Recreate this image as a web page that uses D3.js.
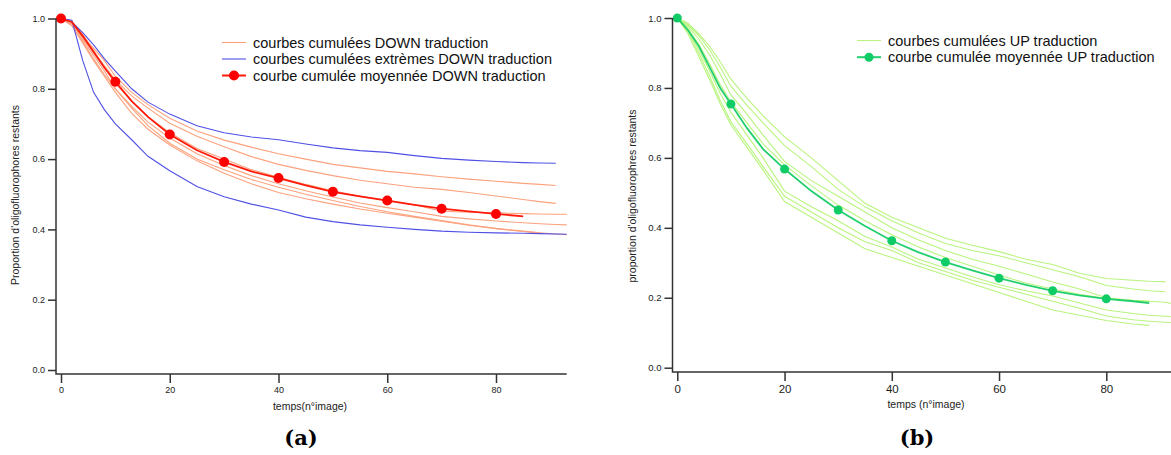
<!DOCTYPE html>
<meta charset="utf-8">
<html lang="fr">
<style>
body { margin: 0; background: #fff; }
svg { display: block; }
.axis text { font-family: "Liberation Sans", Arial, sans-serif; fill: #222; }
.axis line, .axisline { stroke: #333; stroke-width: 1.5px; fill: none; }
.light { fill: none; stroke-width: 1.1px; }
.mean { fill: none; stroke-width: 1.8px; }
.lab { font-family: "Liberation Sans", Arial, sans-serif; fill: #222; }
.legend text { font-family: "Liberation Sans", Arial, sans-serif; font-size: 14.5px; fill: #111; }
.caption { font-family: "DejaVu Serif", "Liberation Serif", serif; font-weight: bold; font-size: 21px; fill: #000; }
</style>
<body>
<svg id="chart" width="1171" height="455"></svg>
<script src="https://cdn.jsdelivr.net/npm/d3@7"></script>
<script>
// ---- panel (a) : DOWN traduction ----
var framesA = [0,2,4,6,8,10,13,16,20,25,30,35,40,45,50,55,60,65,70,75,80,85,88,91,93];
var orangeA = [
  [1,0.99,0.95,0.915,0.88,0.835,0.79,0.755,0.716,0.68,0.654,0.634,0.615,0.6,0.585,0.575,0.565,0.558,0.55,0.543,0.537,0.531,0.528,0.525,null],
  [1,0.985,0.945,0.905,0.865,0.825,0.78,0.745,0.702,0.665,0.635,0.607,0.585,0.568,0.553,0.54,0.53,0.52,0.514,0.505,0.495,0.485,0.479,0.474,null],
  [1,0.99,0.955,0.91,0.86,0.815,0.765,0.72,0.675,0.63,0.6,0.57,0.548,0.528,0.51,0.494,0.483,0.47,0.452,0.449,0.447,0.445,0.444,0.443,0.443],
  [1,0.985,0.94,0.895,0.85,0.8,0.75,0.705,0.66,0.615,0.582,0.553,0.53,0.51,0.492,0.475,0.462,0.45,0.437,0.43,0.424,0.419,0.416,0.414,0.413],
  [1,0.98,0.93,0.88,0.835,0.79,0.73,0.685,0.64,0.595,0.56,0.53,0.505,0.487,0.472,0.458,0.446,0.435,0.423,0.412,0.402,0.394,0.39,0.387,0.385],
  [1,0.98,0.935,0.885,0.84,0.8,0.745,0.695,0.645,0.6,0.57,0.542,0.52,0.5,0.482,0.465,0.45,0.437,0.425,0.413,0.403,0.395,0.39,null,null]
];
var blueA = [
  [1,0.99,0.96,0.925,0.885,0.85,0.8,0.762,0.728,0.695,0.675,0.663,0.655,0.643,0.632,0.624,0.619,0.61,0.602,0.597,0.593,0.59,0.589,0.588,null],
  [1,0.995,0.88,0.79,0.74,0.7,0.655,0.608,0.567,0.522,0.493,0.472,0.455,0.435,0.422,0.413,0.406,0.4,0.395,0.392,0.39,0.389,0.388,0.387,0.386]
];
var meanA = [1,0.99,0.95,0.905,0.86,0.82,0.765,0.72,0.67,0.625,0.592,0.565,0.546,0.525,0.507,0.494,0.482,0.47,0.459,0.451,0.444,0.437,null,null,null];
var legendA = ["courbes cumulées DOWN traduction", "courbes cumulées extrèmes DOWN traduction", "courbe cumulée moyennée DOWN traduction"];

// ---- panel (b) : UP traduction ----
var framesB = [0,2,4,6,8,10,13,16,20,25,30,35,40,45,50,55,60,65,70,75,80,85,88,91,92];
var greenB = [
  [1,0.985,0.955,0.92,0.875,0.825,0.77,0.72,0.66,0.6,0.535,0.47,0.43,0.4,0.37,0.35,0.332,0.31,0.295,0.27,0.255,0.25,0.247,0.246,null],
  [1,0.98,0.95,0.91,0.86,0.805,0.75,0.7,0.635,0.575,0.51,0.46,0.42,0.385,0.355,0.335,0.32,0.3,0.28,0.26,0.235,0.225,0.22,0.217,null],
  [1,0.975,0.94,0.895,0.84,0.78,0.725,0.665,0.59,0.535,0.49,0.445,0.4,0.365,0.335,0.31,0.29,0.268,0.245,0.225,0.2,0.193,0.19,0.187,0.184],
  [1,0.97,0.925,0.87,0.81,0.76,0.7,0.64,0.58,0.52,0.465,0.42,0.38,0.345,0.315,0.29,0.265,0.242,0.225,0.21,0.198,0.192,0.19,null,null],
  [1,0.965,0.91,0.85,0.785,0.73,0.665,0.6,0.505,0.46,0.42,0.375,0.345,0.31,0.285,0.26,0.237,0.22,0.205,0.185,0.165,0.155,0.15,0.147,0.146],
  [1,0.96,0.9,0.835,0.765,0.703,0.64,0.575,0.49,0.445,0.4,0.36,0.335,0.3,0.275,0.25,0.23,0.21,0.19,0.17,0.148,0.137,0.133,0.13,0.129],
  [1,0.955,0.89,0.825,0.755,0.694,0.63,0.565,0.475,0.43,0.385,0.34,0.315,0.29,0.265,0.24,0.215,0.19,0.165,0.15,0.135,0.125,0.121,null,null]
];
var meanB = [1,0.965,0.92,0.86,0.8,0.754,0.685,0.625,0.568,0.505,0.451,0.405,0.363,0.33,0.302,0.278,0.256,0.237,0.22,0.207,0.197,0.19,0.185,null,null];
var legendB = ["courbes cumulées UP traduction", "courbe cumulée moyennée UP traduction"];

var xTicks = [0,20,40,60,80],
    yTicks = [0,0.2,0.4,0.6,0.8,1.0];

var svg = d3.select("#chart");

function drawPanel(p) {
  var x = d3.scaleLinear().domain([0, 80]).range([p.x0, p.x80]);
  var y = d3.scaleLinear().domain([0, 1]).range([p.y0, p.y1]);
  var g = svg.append("g");

  var line = d3.line()
      .defined(function(d) { return d[1] !== null; })
      .x(function(d) { return x(d[0]); })
      .y(function(d) { return y(d[1]); });

  function pairs(vals) {
    return p.frames.map(function(f, i) { return [f, vals[i]]; });
  }

  // light curves first, then extremes, then the mean on top
  p.light.forEach(function(v) {
    g.append("path").attr("class", "light").attr("stroke", p.lightColor).attr("d", line(pairs(v)));
  });
  (p.extremes || []).forEach(function(v) {
    g.append("path").attr("class", "light").attr("stroke", p.extColor).attr("d", line(pairs(v)));
  });
  g.append("path").attr("class", "mean").attr("stroke", p.meanColor).attr("d", line(pairs(p.mean)));
  g.selectAll(".dot").data(pairs(p.mean).filter(function(d) { return d[0] % 10 === 0 && d[0] <= 80 && d[1] !== null; }))
    .enter().append("circle")
    .attr("cx", function(d) { return x(d[0]); })
    .attr("cy", function(d) { return y(d[1]); })
    .attr("r", p.r)
    .attr("fill", p.dotColor);

  // axes (Igor style, offset L)
  var ax = g.append("g").attr("class", "axis")
    .attr("transform", "translate(0," + p.axisY + ")")
    .call(d3.axisBottom(x).tickValues(xTicks).tickSize(9).tickPadding(4).tickFormat(d3.format("d")));
  ax.select(".domain").remove();
  ax.selectAll("text").style("font-size", p.xFont + "px");

  var ay = g.append("g").attr("class", "axis")
    .attr("transform", "translate(" + p.axisX + ",0)")
    .call(d3.axisLeft(y).tickValues(yTicks).tickSize(8).tickPadding(3).tickFormat(d3.format(".1f")));
  ay.select(".domain").remove();
  ay.selectAll("text").style("font-size", p.yFont + "px");

  g.append("path").attr("class", "axisline")
    .attr("d", "M" + p.axisX + "," + y(1) + "V" + p.axisY + "H" + x(p.xEnd));

  g.append("text").attr("class", "lab")
    .attr("x", p.xLabX).attr("y", p.axisY + 36)
    .attr("text-anchor", "middle").style("font-size", "10.5px")
    .text(p.xLabel);
  g.append("text").attr("class", "lab")
    .attr("transform", "translate(" + p.yLabX + "," + p.yLabY + ") rotate(-90)")
    .attr("text-anchor", "middle").style("font-size", "10.5px")
    .text(p.yLabel);

  // legend
  var lg = g.append("g").attr("class", "legend");
  p.legend.forEach(function(t, i) {
    var yy = p.legY + i * p.legStep;
    var c = p.legColors[i];
    lg.append("line").attr("x1", p.legX).attr("x2", p.legX + 24).attr("y1", yy).attr("y2", yy)
      .attr("stroke", c).attr("stroke-width", i === p.legend.length - 1 ? 2 : 1.1);
    if (i === p.legend.length - 1) {
      lg.append("circle").attr("cx", p.legX + 12).attr("cy", yy).attr("r", p.r).attr("fill", p.dotColor);
    }
    lg.append("text").attr("x", p.legX + 31).attr("y", yy).attr("dy", "0.35em").text(t);
  });

  g.append("text").attr("class", "caption")
    .attr("x", p.capX).attr("y", 445).attr("text-anchor", "middle").text(p.caption);
}

drawPanel({
  frames: framesA, light: orangeA, extremes: blueA, mean: meanA,
  lightColor: "#fda27e", extColor: "#5050e6", meanColor: "#ff1a0a", dotColor: "#ff0000", r: 5,
  x0: 61, x80: 496, y0: 370, y1: 18.5, axisX: 56, axisY: 374, xEnd: 93,
  xFont: 9, yFont: 9,
  xLabel: "temps(n°image)", xLabX: 310,
  yLabel: "Proportion d'oligofluorophores restants", yLabX: 19, yLabY: 195,
  legend: legendA, legColors: ["#fda27e", "#5050e6", "#ff1a0a"], legX: 222, legY: 42.5, legStep: 16.5,
  caption: "(a)", capX: 301
});

drawPanel({
  frames: framesB, light: greenB, mean: meanB,
  lightColor: "#b9f47e", meanColor: "#22cf6e", dotColor: "#10cc66", r: 4.5,
  x0: 677.3, x80: 1106.3, y0: 367.7, y1: 18, axisX: 672.5, axisY: 372, xEnd: 93,
  xFont: 11.5, yFont: 9.5,
  xLabel: "temps (n°image)", xLabX: 926,
  yLabel: "proportion d'oligofluorophres restants", yLabX: 636, yLabY: 196,
  legend: legendB, legColors: ["#b9f47e", "#22cf6e"], legX: 857, legY: 40.5, legStep: 16.7,
  caption: "(b)", capX: 917
});
</script>
</body>
</html>
